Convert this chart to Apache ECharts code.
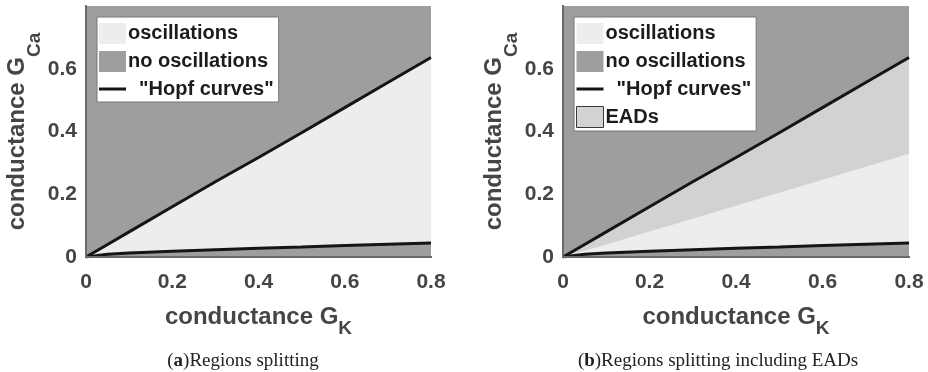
<!DOCTYPE html>
<html>
<head>
<meta charset="utf-8">
<script src="https://cdn.jsdelivr.net/npm/echarts@6/dist/echarts.min.js"></script>
<style>
  html, body { margin: 0; padding: 0; background: #ffffff; }
  #chart { width: 928px; height: 372px; }
</style>
</head>
<body>
<div id="chart"></div>
<script>
// Potassium conductance samples (x) shared by every curve
const gK = [0, 0.05, 0.1, 0.2, 0.3, 0.4, 0.5, 0.6, 0.7, 0.8];
// Upper and lower Hopf bifurcation curves, G_Ca as a function of G_K
const hopfUpper = [0, 0.04, 0.08, 0.16, 0.24, 0.317, 0.396, 0.476, 0.556, 0.636];
const hopfLower = [0, 0.009, 0.013, 0.018, 0.023, 0.028, 0.032, 0.037, 0.041, 0.045];
// Lower edge of the EAD band (panel b)
const eadLower = [0, 0.02, 0.04, 0.081, 0.122, 0.163, 0.205, 0.246, 0.288, 0.329];
// Axis ticks
const xTicks = [0, 0.2, 0.4, 0.6, 0.8];
const yTicks = [0, 0.2, 0.4, 0.6];
// Legend entries and captions
const legendA = ['oscillations', 'no oscillations', '"Hopf curves"'];
const legendB = ['oscillations', 'no oscillations', '"Hopf curves"', 'EADs'];
const captionA = ['a', 'Regions splitting'];
const captionB = ['b', 'Regions splitting including EADs'];

const C_DARK = '#9e9e9e';
const C_LIGHT = '#ededed';
const C_EAD = '#d2d2d2';
const C_LINE = '#151515';
const C_FRAME = '#6a6a6a';
const C_TEXT = '#454545';

const pts = (ys) => gK.map((x, i) => [x, ys[i]]);

const grids = [
  { left: 86, top: 6, width: 345, height: 251 },
  { left: 563, top: 6, width: 346, height: 251 }
];

const FONT = 'Liberation Sans';
const tickFont = { fontFamily: FONT, fontWeight: 'bold', fontSize: 21, color: C_TEXT };
const richX = {
  m: { fontFamily: FONT, fontWeight: 'bold', fontSize: 24, color: C_TEXT },
  s: { fontFamily: FONT, fontWeight: 'bold', fontSize: 19, color: C_TEXT, padding: [22, 0, 0, 0] }
};
const richY = {
  m: { fontFamily: FONT, fontWeight: 'bold', fontSize: 24, color: C_TEXT },
  s: { fontFamily: FONT, fontWeight: 'bold', fontSize: 19, color: C_TEXT, padding: [34, 0, 0, 0] }
};

function xAxes(g) {
  return [
    {
      gridIndex: g, type: 'value', position: 'bottom', min: xTicks[0], max: xTicks[xTicks.length - 1],
      interval: xTicks[1] - xTicks[0], z: 5,
      axisLine: { show: true, lineStyle: { color: C_FRAME, width: 2 } },
      axisTick: { show: false }, splitLine: { show: false },
      axisLabel: Object.assign({ margin: 15 }, tickFont),
      name: '{m|conductance G}{s|K}', nameLocation: 'middle', nameGap: 40,
      nameTextStyle: { rich: richX }
    },
    {
      gridIndex: g, type: 'value', position: 'top', min: 0, max: 0.8, z: 5,
      axisLine: { show: true, lineStyle: { color: C_FRAME, width: 2 } },
      axisTick: { show: false }, splitLine: { show: false }, axisLabel: { show: false }
    }
  ];
}
function yAxes(g) {
  return [
    {
      gridIndex: g, type: 'value', position: 'left', min: yTicks[0], max: 0.8,
      interval: yTicks[1] - yTicks[0], z: 5,
      axisLine: { show: true, lineStyle: { color: C_FRAME, width: 2 } },
      axisTick: { show: false }, splitLine: { show: false },
      axisLabel: Object.assign({ margin: 9, showMaxLabel: false }, tickFont),
      name: '{m|conductance G}{s|Ca}', nameLocation: 'middle', nameGap: 41,
      nameTextStyle: { rich: richY }
    },
    {
      gridIndex: g, type: 'value', position: 'right', min: 0, max: 0.8, z: 5,
      axisLine: { show: true, lineStyle: { color: C_FRAME, width: 2 } },
      axisTick: { show: false }, splitLine: { show: false }, axisLabel: { show: false }
    }
  ];
}

function area(name, g, ys, color) {
  return {
    name: name, type: 'line', xAxisIndex: g * 2, yAxisIndex: g * 2,
    data: pts(ys), symbol: 'none', smooth: false, silent: true,
    itemStyle: { color: color },
    lineStyle: { width: 0 },
    areaStyle: { color: color, opacity: 1 }
  };
}
function curve(g, ys) {
  return {
    name: '"Hopf curves"', type: 'line', xAxisIndex: g * 2, yAxisIndex: g * 2,
    data: pts(ys), symbol: 'none', silent: true, z: 4,
    itemStyle: { color: C_LINE },
    lineStyle: { color: C_LINE, width: 3 }
  };
}

function legend(left, names) {
  return {
    left: left, top: 17, orient: 'vertical',
    backgroundColor: '#ffffff', borderColor: '#777777', borderWidth: 1,
    padding: [6, 5, 3, 2], itemGap: 7, itemWidth: 27, itemHeight: 21,
    selectedMode: false,
    textStyle: { fontFamily: FONT, fontWeight: 'bold', fontSize: 20, color: '#1c1c1c', padding: [0, 0, 0, -3] },
    formatter: (n) => (n.charAt(0) === '"' ? '  ' + n : n),
    data: names.map((n) => {
      if (n === '"Hopf curves"') return { name: n, icon: 'path://M0,0H27V3H0Z' };
      if (n === 'EADs') return { name: n, icon: 'rect', itemStyle: { borderColor: '#3a3a3a', borderWidth: 1 } };
      return { name: n, icon: 'rect' };
    })
  };
}

function caption(cx, parts) {
  return {
    left: cx, top: 347, textAlign: 'center',
    text: '({b|' + parts[0] + '}){n|' + parts[1] + '}',
    textStyle: {
      fontFamily: 'Liberation Serif', fontSize: 19, fontWeight: 'normal', color: '#222222',
      rich: {
        b: { fontFamily: 'Liberation Serif', fontSize: 19, fontWeight: 'bold', color: '#222222' },
        n: { fontFamily: 'Liberation Serif', fontSize: 19, color: '#222222' }
      }
    }
  };
}

const chart = echarts.init(document.getElementById('chart'), null, { renderer: 'canvas' });
chart.setOption({
  animation: false,
  backgroundColor: '#ffffff',
  title: [caption(238, captionA), caption(713, captionB)],
  grid: grids.map((g) => Object.assign({ show: true, backgroundColor: C_DARK, borderWidth: 0 }, g)),
  xAxis: xAxes(0).concat(xAxes(1)),
  yAxis: yAxes(0).concat(yAxes(1)),
  legend: [legend(97, legendA), legend(574, legendB)],
  series: [
    area('oscillations', 0, hopfUpper, C_LIGHT),
    area('no oscillations', 0, hopfLower, C_DARK),
    curve(0, hopfUpper),
    curve(0, hopfLower),
    area('EADs', 1, hopfUpper, C_EAD),
    area('oscillations', 1, eadLower, C_LIGHT),
    area('no oscillations', 1, hopfLower, C_DARK),
    curve(1, hopfUpper),
    curve(1, hopfLower)
  ]
});
</script>
</body>
</html>
